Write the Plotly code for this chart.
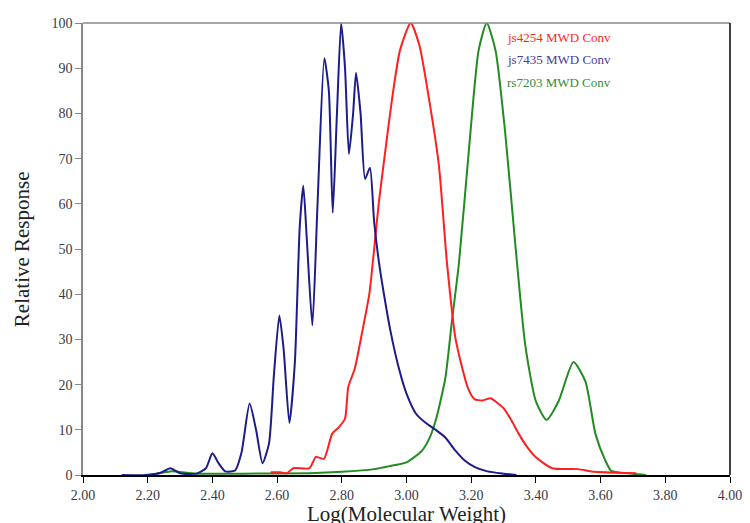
import plotly.graph_objects as go

# ---- data ----
blue_x = [2.12, 2.20, 2.24, 2.27, 2.30, 2.35, 2.38, 2.40, 2.42, 2.44, 2.47, 2.49, 2.515, 2.535, 2.555, 2.575, 2.59,
          2.607, 2.62, 2.638, 2.655, 2.67, 2.681, 2.692, 2.709, 2.725, 2.746, 2.76, 2.772, 2.785, 2.798, 2.81, 2.822,
          2.835, 2.844, 2.858, 2.872, 2.887, 2.90, 2.915, 2.935, 2.95, 2.975, 3.00, 3.03, 3.06, 3.09, 3.12, 3.15,
          3.18, 3.21, 3.25, 3.30, 3.34]
blue_y = [0, 0, 0.5, 1.5, 0.4, 0.3, 1.5, 4.8, 2.5, 0.8, 1.0, 5, 15.8, 10, 2.6, 7, 22,
          35.3, 28, 11.5, 25, 55, 64, 52, 33.1, 60, 92.2, 85, 58, 80, 100, 90, 71,
          80, 89, 80, 65.5, 68, 56, 47, 38, 32, 24, 18, 13.5, 11.5, 10, 8.3, 5.5,
          3.2, 1.8, 0.8, 0.3, 0]

red_x = [2.58, 2.61, 2.63, 2.65, 2.70, 2.72, 2.745, 2.77, 2.79, 2.81, 2.82, 2.84, 2.864, 2.885, 2.90, 2.915, 2.935,
         2.955, 2.98, 3.013, 3.04, 3.07, 3.10, 3.125, 3.152, 3.19, 3.21, 3.235, 3.26, 3.28, 3.30, 3.325, 3.347,
         3.375, 3.40, 3.45, 3.53, 3.58, 3.65, 3.71]
red_y = [0.6, 0.6, 0.4, 1.5, 1.5, 4.0, 3.6, 9.1, 10.5, 12.5, 19.5, 23.5, 32, 40, 50, 60.6, 72,
         83, 94, 100, 95, 83, 68.6, 47, 30, 19.2, 16.8, 16.5, 17, 16, 14.8, 12, 9.1,
         6, 3.9, 1.5, 1.3, 0.7, 0.5, 0.4]

green_x = [2.19, 2.23, 2.27, 2.35, 2.50, 2.70, 2.80, 2.90, 2.95, 3.00, 3.048, 3.07, 3.09, 3.12, 3.14, 3.162, 3.193,
           3.223, 3.248, 3.275, 3.305, 3.337, 3.367, 3.40, 3.433, 3.47, 3.516, 3.553, 3.584, 3.614, 3.633, 3.66,
           3.70, 3.74]
green_y = [0, 0.3, 0.8, 0.3, 0.3, 0.4, 0.7, 1.3, 2, 2.8, 5.4, 8, 12, 21.4, 33.8, 46.8, 72,
           94, 100, 94, 75.8, 50.5, 28.8, 16.3, 12.2, 16.3, 25, 20.7, 9.1, 3.3, 0.9, 0.5,
           0.3, 0]

x_ticks = [2.00, 2.20, 2.40, 2.60, 2.80, 3.00, 3.20, 3.40, 3.60, 3.80, 4.00]
y_ticks = [0, 10, 20, 30, 40, 50, 60, 70, 80, 90, 100]
legend_names = ["js4254 MWD Conv", "js7435 MWD Conv", "rs7203 MWD Conv"]

BLUE = "#1c1c8a"
RED = "#ff1f1f"
GREEN = "#228b22"
SERIF = "Liberation Serif, Times New Roman, serif"

fig = go.Figure()
for xs, ys, col in [(green_x, green_y, GREEN), (red_x, red_y, RED), (blue_x, blue_y, BLUE)]:
    fig.add_trace(go.Scatter(x=xs, y=ys, mode="lines",
                             line=dict(color=col, width=2, shape="spline", smoothing=0.6),
                             showlegend=False, hoverinfo="skip"))

fig.update_layout(
    width=742, height=515,
    margin=dict(l=75, r=18, t=8, b=48),
    paper_bgcolor="white", plot_bgcolor="white",
    font=dict(family=SERIF, color="#333344"),
    xaxis=dict(range=[2, 4], tickvals=x_ticks, ticktext=[f"{v:.2f}" for v in x_ticks],
               showgrid=False, zeroline=False, showline=True, linecolor="black", linewidth=1.5,
               ticks="outside", ticklen=6, tickcolor="black", tickfont=dict(size=14, family=SERIF, color="#3a3a44")),
    yaxis=dict(range=[0, 100], tickvals=y_ticks, ticktext=[str(v) for v in y_ticks],
               showgrid=False, zeroline=False, showline=True, linecolor="#888888", linewidth=1.5,
               ticks="outside", ticklen=6, tickcolor="#888888", tickfont=dict(size=14, family=SERIF, color="#3a3a44")),
)

# frame: top (gray) and right (black)
fig.add_shape(type="line", xref="paper", yref="paper", x0=0, x1=1, y0=1, y1=1,
              line=dict(color="#888888", width=1.5))
fig.add_shape(type="line", xref="paper", yref="paper", x0=1, x1=1, y0=0, y1=1,
              line=dict(color="black", width=1.5))

legend_cols = [RED, "#4b3a9a", "#3a8a3a"]
legend_y = [0.967, 0.919, 0.869]
for name, col, yy in zip(legend_names, legend_cols, legend_y):
    fig.add_annotation(text=name, xref="paper", yref="paper", x=0.653, y=yy,
                       xanchor="left", yanchor="middle", showarrow=False,
                       font=dict(size=13, family=SERIF, color=col))

fig.add_annotation(text="Relative Response", xref="paper", yref="paper", x=-0.094, y=0.5,
                   textangle=-90, showarrow=False, xanchor="center", yanchor="middle",
                   font=dict(size=21, family=SERIF, color="#222222"))
fig.add_annotation(text="Log(Molecular Weight)", xref="paper", yref="paper", x=0.5, y=-0.087,
                   showarrow=False, xanchor="center", yanchor="middle",
                   font=dict(size=21, family=SERIF, color="#222222"))

fig.write_html("out.html")
